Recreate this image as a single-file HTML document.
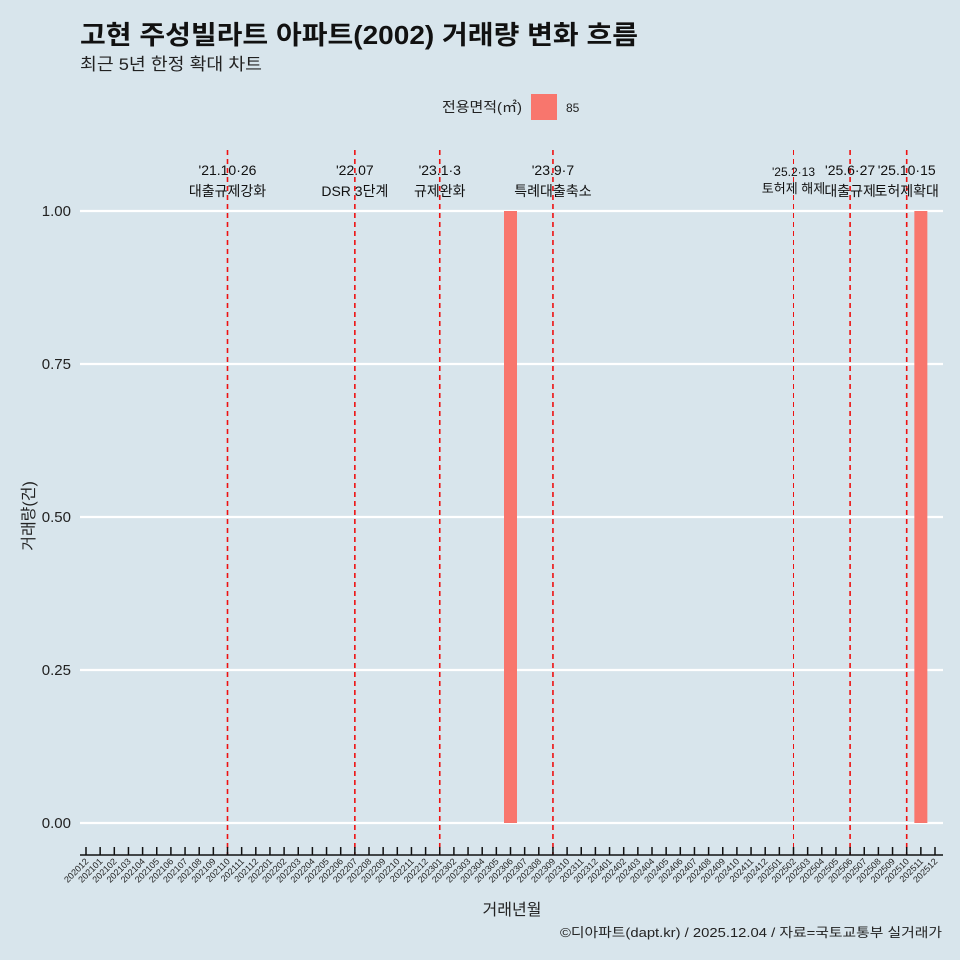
<!DOCTYPE html>
<html><head><meta charset="utf-8"><style>
body{margin:0;background:#d8e5ec;}
svg{display:block;font-family:"Liberation Sans","Noto Sans CJK KR",sans-serif;}
</style></head><body>
<svg id="c" width="960" height="960">
<rect width="960" height="960" fill="#d8e5ec"/>
<text x="80" y="44" font-size="26" font-weight="bold" fill="#111" textLength="558" lengthAdjust="spacingAndGlyphs">고현 주성빌라트 아파트(2002) 거래량 변화 흐름</text>
<text x="80" y="70" font-size="17" fill="#222" textLength="182" lengthAdjust="spacingAndGlyphs">최근 5년 한정 확대 차트</text>
<text x="442" y="112" font-size="14" fill="#222" textLength="80" lengthAdjust="spacingAndGlyphs">전용면적(㎡)</text>
<rect x="531" y="94" width="26" height="26" fill="#f8766d"/>
<text x="566" y="112" font-size="12" fill="#222">85</text>
<text transform="translate(34,516) rotate(-90)" text-anchor="middle" font-size="16" fill="#222">거래량(건)</text>
<text x="512" y="915" text-anchor="middle" font-size="16" fill="#222">거래년월</text>
<text x="942" y="937" text-anchor="end" font-size="13" fill="#222" textLength="382" lengthAdjust="spacingAndGlyphs">©디아파트(dapt.kr) / 2025.12.04 / 자료=국토교통부 실거래가</text>
<g id="grid"></g><g id="bars"></g><g id="events"></g><g id="xaxis"></g>
</svg>
<script>
const months=[];
for(let y=2020,m=12;!(y===2026&&m===1);){months.push(String(y)+String(m).padStart(2,'0'));m++;if(m>12){m=1;y++;}}
const barMonths=["202306","202511"];
const barValues=[1,1];
const yTicks=[0,0.25,0.5,0.75,1];
const yTickLabels=["0.00","0.25","0.50","0.75","1.00"];
const eventMonths=["202110","202207","202301","202309","202502","202506","202510"];
const eventDates=["'21.10·26","'22.07","'23.1·3","'23.9·7","'25.2·13","'25.6·27","'25.10·15"];
const eventLabels=["대출규제강화","DSR 3단계","규제완화","특례대출축소","토허제 해제","대출규제","토허제확대"];
const ns="http://www.w3.org/2000/svg";
function xs(mo){return 86+months.indexOf(mo)*(935-86)/(months.length-1);}
function ys(v){return 823-v*612;}
function el(t,a,p,txt){const e=document.createElementNS(ns,t);for(const k in a)e.setAttribute(k,a[k]);if(txt!==undefined)e.textContent=txt;document.getElementById(p).appendChild(e);return e;}
yTicks.forEach((v,i)=>{
 const l=el('line',{x1:80,x2:943,y1:ys(v),y2:ys(v),stroke:'#fff','stroke-width':2.2},'grid');
 
 
 const t=el('text',{x:71,y:ys(v)+5,'text-anchor':'end','font-size':15,fill:'#222'},'grid',yTickLabels[i]);
 
 
});
barMonths.forEach((mo,i)=>{
 const r=el('rect',{x:xs(mo)-6.5,y:ys(barValues[i]),width:13,height:ys(0)-ys(barValues[i]),fill:'#f8766d'},'bars');
 
 
});
eventMonths.forEach((mo,i)=>{
 const x=xs(mo);const thin=mo==="202502";
 const l=el('line',{x1:x,x2:x,y1:150,y2:855,stroke:'#ee1111','stroke-width':thin?1:1.6,'stroke-dasharray':'5,4'},'events');
 
 
 const d=el('text',{x:x,y:thin?176:175,'text-anchor':'middle','font-size':thin?12:14,fill:'#111'},'events',eventDates[i]);
 
 
 const t=el('text',{x:x,y:thin?193:196,'text-anchor':'middle','font-size':thin?13:14,fill:'#111'},'events',eventLabels[i]);
 
 
});
const ax=el('line',{x1:80,x2:943,y1:855,y2:855,stroke:'#111','stroke-width':1.5},'xaxis');


months.forEach(mo=>{
 const x=xs(mo);
 const tk=el('line',{x1:x,x2:x,y1:847,y2:855,stroke:'#111','stroke-width':1.5},'xaxis');
 
 
 const t=el('text',{transform:`translate(${x+3},862) rotate(-45)`,'text-anchor':'end','font-size':9,fill:'#222'},'xaxis',mo);
 
 
});
</script>
</body></html>
